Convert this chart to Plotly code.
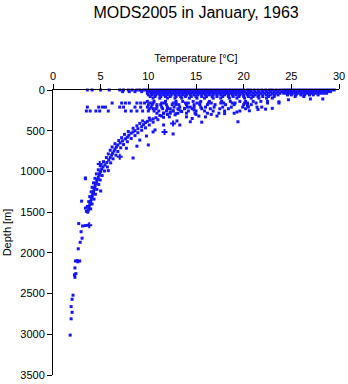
import plotly.graph_objects as go

# ---------------- data ----------------
# near-surface rows: depth level [m] -> temperatures [°C]
depth_levels = [0, 20, 40, 60, 80, 100]
temp_0m = [3.6, 4.1, 5.0, 5.9, 7.0, 7.4, 7.9, 8.3, 8.8, 9.1, 9.5, 9.8, 10.1, 10.4, 10.7, 11.0,
           11.3, 11.6, 11.9, 12.2, 12.5, 12.8, 13.1, 13.4, 13.7, 14.0, 14.3, 14.6, 14.9,
           15.2, 15.5, 15.8, 16.1, 16.4, 16.7, 17.0, 17.3, 17.6, 17.9, 18.2, 18.5, 18.8,
           19.1, 19.4, 19.7, 20.0, 20.4, 20.7, 21.1, 21.5, 21.9, 22.3, 22.7, 23.0, 23.4,
           23.8, 24.1, 24.4, 24.7, 25.0, 25.3, 25.6, 25.9, 26.2, 26.5, 26.8, 27.1, 27.4,
           27.7, 28.0, 28.3, 28.6, 28.9, 29.2, 29.5]
temp_20m = [7.3, 8.0, 8.6, 9.3, 9.9, 10.2, 10.5, 10.8, 11.1, 11.4, 11.7, 12.0, 12.3, 12.6,
            12.9, 13.2, 13.5, 13.8, 14.1, 14.4, 14.7, 15.0, 15.3, 15.6, 15.9, 16.2, 16.5,
            16.8, 17.1, 17.4, 17.7, 18.0, 18.3, 18.6, 18.9, 19.2, 19.5, 19.8, 20.1, 20.5,
            20.8, 21.2, 21.6, 22.0, 22.4, 22.8, 23.2, 23.6, 24.0, 24.3, 24.6, 24.9, 25.2,
            25.5, 25.8, 26.1, 26.4, 26.7, 27.0, 27.3, 27.6, 27.9, 28.2, 28.5, 28.8, 29.1]
temp_40m = [9.9, 10.3, 10.6, 10.9, 11.2, 11.5, 11.8, 12.1, 12.4, 12.7, 13.0, 13.3, 13.6,
            13.9, 14.2, 14.5, 14.8, 15.1, 15.4, 15.7, 16.0, 16.3, 16.6, 16.9, 17.2, 17.5,
            17.8, 18.1, 18.4, 18.7, 19.0, 19.3, 19.6, 19.9, 20.3, 20.6, 21.0, 21.4, 21.8,
            22.2, 22.6, 23.0, 23.4, 23.8, 24.2, 24.5, 24.8, 25.1, 25.4, 25.7, 26.0, 26.3,
            26.6, 26.9, 27.2, 27.5, 27.8, 28.1, 28.4, 28.7]
temp_60m = [10.0, 10.4, 10.8, 11.2, 11.6, 12.0, 12.4, 12.8, 13.2, 13.6, 14.0, 14.4, 14.8,
            15.2, 15.6, 16.0, 16.4, 16.8, 17.2, 17.6, 18.0, 18.4, 18.8, 19.2, 19.6, 20.0,
            20.4, 20.8, 21.2, 21.6, 22.0, 22.4, 22.8, 23.2, 23.6, 24.6, 25.0, 25.5, 26.0,
            26.4, 26.9, 27.3, 27.8]
temp_80m = [10.2, 10.7, 11.3, 11.8, 12.3, 12.9, 13.4, 13.9, 14.5, 15.0, 15.6, 16.1, 16.7,
            17.2, 17.8, 18.4, 18.9, 19.5, 20.0, 20.5, 21.0, 21.5, 22.0, 22.6, 23.2, 25.4,
            26.3]
temp_100m = [10.5, 11.2, 12.0, 12.8, 13.5, 14.3, 15.1, 15.9, 16.8, 17.6, 18.5, 19.3, 20.1,
             20.8, 21.6, 22.4, 23.0]
# subsurface rows
row_depths = [140, 160, 180, 210, 230, 258, 285]
temp_140m = [9.9, 10.6, 11.8, 12.9, 13.6, 14.7, 15.5, 16.4, 17.7, 18.6, 19.6, 20.2, 21.0,
             21.8, 22.5]
temp_160m = [6.2, 7.2, 7.6, 8.0, 8.8, 9.2, 9.6, 10.2, 10.5, 11.4, 11.7, 12.6, 12.9, 13.9,
             14.2, 15.1, 15.4, 16.3, 16.6, 17.6, 17.9, 18.8, 19.1, 20.1, 20.4, 21.3, 22.5,
             23.7]
temp_180m = [10.0, 10.4, 10.9, 11.3, 11.9, 12.5, 12.9, 13.2, 14.0, 14.8, 15.4, 16.2, 17.0,
             18.1, 19.0, 20.0, 20.8]
temp_210m = [3.6, 4.8, 5.2, 5.5, 7.0, 7.4, 8.6, 9.2, 9.9, 10.3, 10.9, 11.4, 12.0, 12.7, 13.3,
             14.1, 14.8, 15.5, 16.0, 16.9, 17.8, 18.7, 19.9, 20.5, 21.4]
temp_230m = [10.1, 10.5, 10.8, 11.5, 12.0, 12.3, 13.1, 13.8, 14.6, 15.6, 16.5, 17.5, 18.4,
             20.2]
temp_255m = [3.5, 3.9, 4.5, 4.9, 5.8, 7.6, 8.2, 8.8, 9.4, 10.0, 10.6, 11.1, 11.9, 12.6,
             13.4, 14.2, 15.0, 15.9, 16.8, 18.0, 19.6]
temp_285m = [10.9, 11.6, 12.3, 13.1, 14.0, 14.9, 16.2, 17.4, 19.0]

# thermocline band: three interleaved strands (temperature, depth)
bandA_depth = [300, 320, 340, 355, 370, 385, 400, 425, 450, 475, 500, 515, 530, 555, 580,
               600, 625, 650, 675, 700, 725, 750, 775, 800, 830, 860, 890, 920, 945, 970,
               1000, 1020, 1045, 1075, 1100, 1125, 1150, 1175, 1200, 1225, 1250, 1275, 1300,
               1325, 1350, 1375, 1400, 1425, 1450, 1475, 1500]
bandA_temp = [12.0, 11.4, 10.8, 10.5, 10.2, 9.9, 9.7, 9.5, 9.3, 8.9, 8.6, 8.4, 8.2, 7.95,
              7.8, 7.6, 7.3, 7.05, 6.8, 6.65, 6.5, 6.4, 6.25, 6.15, 6.0, 5.85, 5.65, 5.45,
              5.25, 5.1, 5.0, 4.9, 4.85, 4.75, 4.65, 4.58, 4.5, 4.42, 4.36, 4.3, 4.25, 4.18,
              4.12, 4.06, 4.0, 3.94, 3.87, 3.8, 3.75, 3.7, 3.65]
bandB_depth = [312, 345, 380, 410, 440, 470, 510, 545, 585, 620, 660, 700, 740, 785, 830,
               880, 930, 980, 1030, 1085, 1140, 1195, 1250, 1310, 1370, 1430, 1490]
bandB_temp = [11.2, 10.1, 9.4, 9.1, 8.8, 8.4, 7.9, 7.5, 7.2, 6.9, 6.5, 6.2, 6.0, 5.8, 5.6,
              5.3, 5.0, 4.75, 4.55, 4.4, 4.25, 4.1, 4.0, 3.85, 3.75, 3.6, 3.5]
bandC_depth = [305, 335, 365, 395, 430, 465, 495, 525, 560, 595, 635, 670, 710, 755, 800,
               845, 895, 945, 995, 1050, 1105, 1160, 1220, 1280, 1340, 1400, 1460]
bandC_temp = [12.8, 11.6, 11.0, 10.5, 10.1, 9.7, 9.3, 8.9, 8.6, 8.2, 7.8, 7.4, 7.1, 6.8,
              6.6, 6.3, 6.05, 5.7, 5.4, 5.15, 4.95, 4.8, 4.6, 4.45, 4.3, 4.1, 3.95]
# upper end of the band and the scatter beside it
upper_temp = [14.4, 13.8, 13.2, 12.6, 12.3, 13.5, 12.9, 14.8, 11.6, 13.0, 14.0, 15.0, 16.0,
              17.2, 14.6, 15.3, 16.6, 18.0, 19.3, 20.6, 21.5, 22.3, 23.0, 12.2]
upper_depth = [210, 225, 240, 255, 270, 265, 290, 245, 285, 380, 330, 300, 330, 320, 350,
               320, 300, 290, 270, 255, 240, 235, 225, 330]
deep_temp = [2.7, 3.1, 3.4, 3.7, 2.95, 3.05, 2.85, 2.65, 2.35, 2.55, 2.8, 2.6, 2.3, 2.25,
             2.4, 2.3, 2.1, 2.0, 1.9, 2.0, 1.9, 1.8]
deep_depth = [1640, 1670, 1665, 1660, 1740, 1820, 1870, 1950, 2100, 2095, 2100, 2110, 2185,
              2270, 2255, 2300, 2520, 2570, 2660, 2730, 2810, 3010]
# isolated observations
outlier_temp = [3.4, 5.0, 3.0, 3.4, 12.6, 10.7, 10.0, 9.8, 9.1, 8.4, 7.7, 5.8, 14.4, 13.3,
                15.6, 10.5, 19.4, 21.9, 20.4, 24.7, 27.0, 28.3, 23.7, 8.8, 11.6, 3.4]
outlier_depth = [1080, 1240, 1365, 1450, 540, 490, 675, 565, 615, 835, 715, 990, 390, 430,
                 395, 515, 390, 210, 190, 120, 110, 110, 145, 690, 430, 1090]
cross_temp = [4.9, 12.6, 11.7, 7.0, 3.8]
cross_depth = [910, 410, 515, 820, 1660]

# ---------------- assemble ----------------
xs, ys = [], []
for d, temps in zip(depth_levels, [temp_0m, temp_20m, temp_40m, temp_60m, temp_80m, temp_100m]):
    xs += temps
    ys += [d] * len(temps)
for d, temps in zip(row_depths, [temp_140m, temp_160m, temp_180m, temp_210m, temp_230m,
                                 temp_255m, temp_285m]):
    xs += temps
    ys += [d] * len(temps)
xs += bandA_temp + bandB_temp + bandC_temp + upper_temp + deep_temp + outlier_temp
ys += bandA_depth + bandB_depth + bandC_depth + upper_depth + deep_depth + outlier_depth

BLUE = "#1414ff"
fig = go.Figure()
fig.add_trace(go.Scatter(x=xs, y=ys, mode="markers",
                         marker=dict(symbol="square", size=3, color=BLUE, line=dict(width=0)),
                         showlegend=False, hoverinfo="skip", cliponaxis=False))
fig.add_trace(go.Scatter(x=cross_temp, y=cross_depth, mode="markers",
                         marker=dict(symbol="cross", size=5, color=BLUE, line=dict(width=0)),
                         showlegend=False, hoverinfo="skip"))

FONT = "Liberation Sans, Arial, sans-serif"
fig.update_layout(
    width=348, height=384,
    margin=dict(l=53, r=9, t=90, b=9),
    paper_bgcolor="white", plot_bgcolor="white",
    font=dict(family=FONT, size=11, color="black"),
    title=dict(text="MODS2005 in January, 1963", x=0.5635, xanchor="center",
               y=0.968, yanchor="middle", font=dict(size=16, family=FONT, color="black")),
    xaxis=dict(side="top", range=[0, 30], tickvals=[0, 5, 10, 15, 20, 25, 30],
               automargin=False,
               showgrid=False, zeroline=False, showline=True, linecolor="black",
               linewidth=1, ticks="outside", ticklen=5, tickcolor="black",
               title=dict(text="Temperature [°C]", font=dict(size=11), standoff=4)),
    yaxis=dict(range=[3500, 0], tickvals=[0, 500, 1000, 1500, 2000, 2500, 3000, 3500],
               automargin=False,
               showgrid=False, zeroline=False, showline=True, linecolor="black",
               linewidth=1, ticks="outside", ticklen=5, tickcolor="black",
               title=dict(text="Depth [m]", font=dict(size=11), standoff=6)),
)
fig.write_html("out.html", config={"displayModeBar": False},
               post_script="document.body.style.margin='0';document.body.style.overflow='hidden';")
